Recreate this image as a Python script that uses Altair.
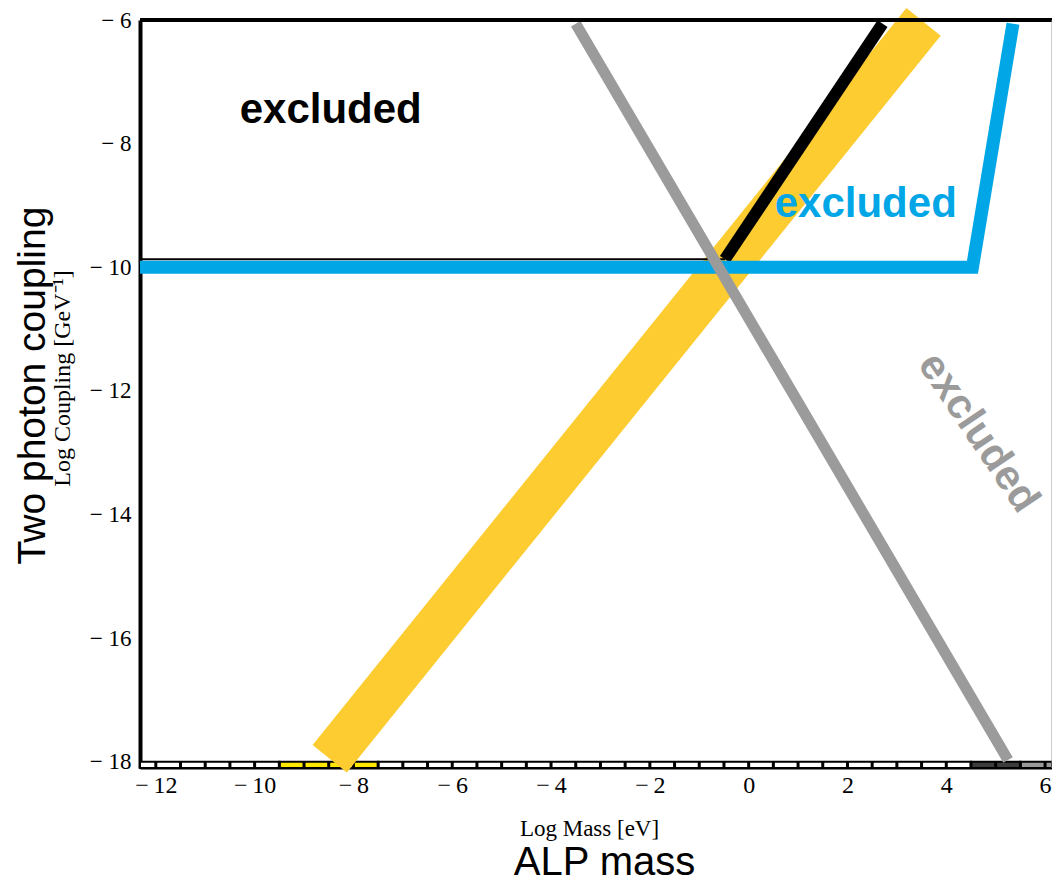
import altair as alt
import pandas as pd

# ---------------- data ----------------
x_ticks = [-12, -10, -8, -6, -4, -2, 0, 2, 4, 6]
y_ticks = [-18, -16, -14, -12, -10, -8, -6]

x_domain = [-12.32, 6.14]
y_domain = [-18.1, -6.0]

yellow_x = [-8.48, 3.54]
yellow_y = [-17.95, -6.03]

black_x = [-0.48, 2.71]
black_y = [-9.87, -6.06]

edge_x = [-12.32, -0.48]
edge_y = [-9.87, -9.87]

blue_x = [-12.32, 4.53, 5.35]
blue_y = [-10.0, -10.0, -6.06]

gray_x = [-3.5, 5.25]
gray_y = [-6.06, -17.97]

strip_start = [-12.32, -9.5, -7.5, 4.5, 5.5]
strip_end = [-9.5, -7.5, 4.5, 5.5, 6.14]
strip_color = ["#FFFFFF", "#FFE800", "#FFFFFF", "#3C3C3C", "#9A9A9A"]
strip_gaps = [i / 2 for i in range(-24, 13)]
strip_top = -18.0
strip_bottom = -18.1

label_text = ["excluded", "excluded", "excluded"]
label_x = [-8.46, 2.37, 4.44]
label_y = [-7.66, -9.18, -12.79]
label_color = ["#000000", "#00A6E6", "#9B9B9B"]
label_angle = [0, 0, 56]

# ---------------- helpers ----------------
xscale = alt.Scale(domain=x_domain, nice=False, zero=False)
yscale = alt.Scale(domain=y_domain, nice=False, zero=False)


def line_df(xs, ys):
    return pd.DataFrame({"x": xs, "y": ys, "i": list(range(len(xs)))})


axis_x_main = alt.Axis(
    values=x_ticks, title="Log Mass [eV]", grid=False, ticks=False, tickSize=0,
    labelFont="Liberation Serif", labelFontSize=24, labelColor="black", labelPadding=5,
    labelExpr="datum.value < 0 ? '\u2212\u2009' + abs(datum.value) : '' + datum.value",
    titleFont="Liberation Serif", titleFontSize=23, titleFontWeight="normal",
    titleColor="black", titlePadding=20, titleX=449,
    domain=True, domainColor="black", domainWidth=2,
)
axis_y_main = alt.Axis(
    values=y_ticks, title="Log Coupling [GeV\u207b\u00b9]", grid=False, ticks=False, tickSize=0,
    labelFont="Liberation Serif", labelFontSize=23, labelColor="black", labelPadding=9,
    labelExpr="datum.value < 0 ? '\u2212 ' + abs(datum.value) : '' + datum.value",
    titleFont="Liberation Serif", titleFontSize=24, titleFontWeight="normal",
    titleColor="black", titlePadding=15, titleY=358,
    domain=True, domainColor="black", domainWidth=4,
)
axis_x_big = alt.Axis(
    orient="bottom", title="ALP mass", labels=False, ticks=False, domain=False, grid=False,
    titleFont="Liberation Sans", titleFontSize=40, titleFontWeight="normal",
    titleColor="black", titlePadding=74, titleX=464,
)
axis_y_big = alt.Axis(
    orient="left", title="Two photon coupling", labels=False, ticks=False, domain=False, grid=False,
    titleFont="Liberation Sans", titleFontSize=39, titleFontWeight="normal",
    titleColor="black", titlePadding=88, titleY=365,
)


def line_layer(xs, ys, color, width, xaxis=None, yaxis=None):
    return alt.Chart(line_df(xs, ys)).mark_line(
        color=color, strokeWidth=width, strokeCap="butt", strokeJoin="miter"
    ).encode(
        x=alt.X("x:Q", scale=xscale, axis=xaxis),
        y=alt.Y("y:Q", scale=yscale, axis=yaxis),
        order=alt.Order("i:Q"),
    )


# ---------------- layers ----------------
strip_df = pd.DataFrame({
    "s": strip_start, "e": strip_end, "c": strip_color,
    "t": [strip_top] * len(strip_start), "b": [strip_bottom] * len(strip_start),
})
strip = alt.Chart(strip_df).mark_rect(stroke="black", strokeWidth=2).encode(
    x=alt.X("s:Q", scale=xscale, axis=None), x2="e:Q",
    y=alt.Y("t:Q", scale=yscale, axis=None), y2="b:Q",
    color=alt.Color("c:N", scale=None),
)

gaps_df = pd.DataFrame({"g": strip_gaps, "t": [strip_top] * len(strip_gaps),
                        "b": [strip_bottom] * len(strip_gaps)})
gaps = alt.Chart(gaps_df).mark_rule(color="black", strokeWidth=3).encode(
    x=alt.X("g:Q", scale=xscale, axis=None),
    y=alt.Y("t:Q", scale=yscale, axis=None), y2="b:Q",
)

yellow = line_layer(yellow_x, yellow_y, "#FDCC30", 44, axis_x_main, axis_y_main)
edge = line_layer(edge_x, edge_y, "#000000", 2)
black = line_layer(black_x, black_y, "#000000", 12)
blue = line_layer(blue_x, blue_y, "#00A6E6", 13)
gray = line_layer(gray_x, gray_y, "#9B9B9B", 11)

frame_df = pd.DataFrame({"x": [x_domain[0]], "x2": [x_domain[1]], "y": [y_domain[1]]})
top_frame = alt.Chart(frame_df).mark_rule(color="black", strokeWidth=4).encode(
    x=alt.X("x:Q", scale=xscale, axis=axis_x_big), x2="x2:Q",
    y=alt.Y("y:Q", scale=yscale, axis=axis_y_big),
)
right_df = pd.DataFrame({"x": [x_domain[1]], "y": [y_domain[0]], "y2": [y_domain[1]]})
right_frame = alt.Chart(right_df).mark_rule(color="#9A9A9A", strokeWidth=1).encode(
    x=alt.X("x:Q", scale=xscale, axis=None),
    y=alt.Y("y:Q", scale=yscale, axis=None), y2="y2:Q",
)

text_df = pd.DataFrame({"t": label_text, "x": label_x, "y": label_y,
                        "c": label_color, "a": label_angle})
texts = alt.Chart(text_df).mark_text(
    font="Liberation Sans", fontSize=42, fontWeight="bold",
    baseline="alphabetic", align="center",
).encode(
    x=alt.X("x:Q", scale=xscale, axis=None),
    y=alt.Y("y:Q", scale=yscale, axis=None),
    text="t:N",
    color=alt.Color("c:N", scale=None),
    angle=alt.Angle("a:Q", scale=None),
)

chart = alt.layer(
    strip, gaps, yellow, edge, black, blue, gray, top_frame, right_frame, texts
).resolve_axis(x="independent", y="independent").properties(
    width=912, height=748,
    autosize=alt.AutoSizeParams(type="none"),
    padding={"left": 132, "top": 12, "right": 0, "bottom": 114},
).configure_view(stroke=None).configure(background="white")

chart.save("out.html", embed_options={"renderer": "svg", "actions": False})
